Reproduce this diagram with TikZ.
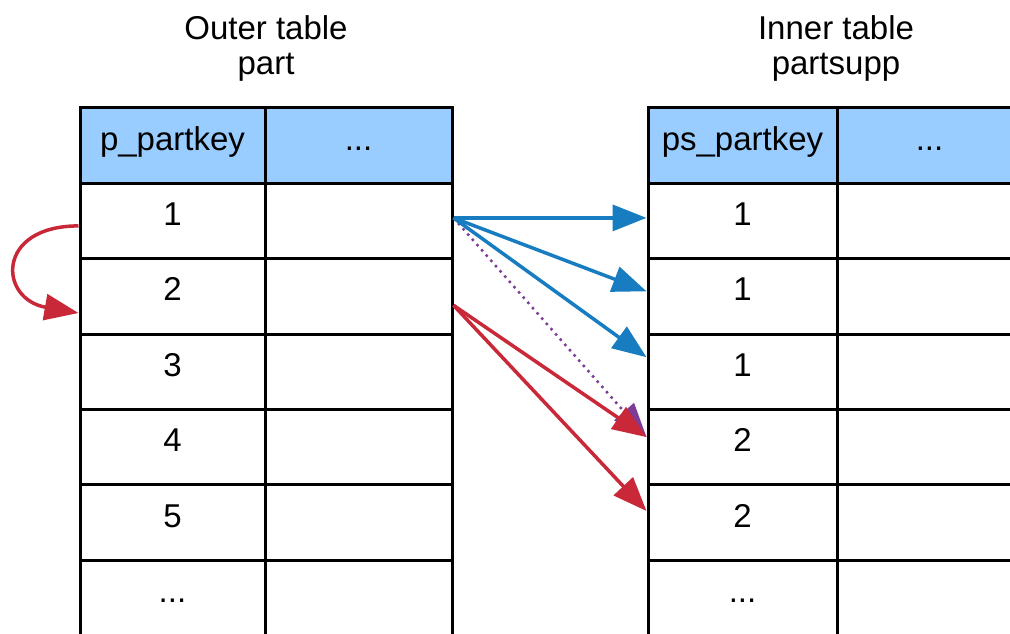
\documentclass[tikz,border=0pt]{standalone}
\usepackage{fontspec}
\setmainfont{Liberation Sans}
\usetikzlibrary{arrows.meta}
\definecolor{hdrfill}{RGB}{153,204,255}
\definecolor{bluearr}{RGB}{23,125,192}
\definecolor{redarr}{RGB}{200,40,56}
\definecolor{purparr}{RGB}{125,60,150}
\begin{document}
\begin{tikzpicture}[x=1pt,y=-1pt,
  cell/.style={draw=black,line width=3pt,minimum height=75.4pt,inner sep=0pt,
    text height=21pt,text depth=12pt,font=\fontsize{33}{38}\selectfont},
  hdrcell/.style={cell,fill=hdrfill},
  colA/.style={minimum width=185pt},
  colB/.style={minimum width=187pt},
  colC/.style={minimum width=189pt},
  colD/.style={minimum width=185pt},
  title/.style={anchor=north,align=center,inner sep=0pt,font=\fontsize{33}{35}\selectfont},
  tip/.style={-{Triangle[length=34pt,width=26pt]}},
  bluelink/.style={tip,draw=bluearr,line width=3.5pt},
  redlink/.style={tip,draw=redarr,line width=3.5pt},
  purplink/.style={tip,draw=purparr,line width=2.5pt,dash pattern=on 2.5pt off 4.5pt}]
\useasboundingbox (0,0) rectangle (1010,633);
\clip (0,0) rectangle (1010,633);

% titles
\node[title] (t1) at (266,15) {Outer table\\part};
\node[title] (t2) at (836,15) {Inner table\\partsupp};

% left table
\node[hdrcell,colA] (L0a) at (172.5,145.5) {p\_partkey};
\node[hdrcell,colB] (L0b) at (358.5,145.5) {...};
\node[cell,colA] (L1a) at (172.5,220.9) {1};
\node[cell,colB] (L1b) at (358.5,220.9) {};
\node[cell,colA] (L2a) at (172.5,296.3) {2};
\node[cell,colB] (L2b) at (358.5,296.3) {};
\node[cell,colA] (L3a) at (172.5,371.7) {3};
\node[cell,colB] (L3b) at (358.5,371.7) {};
\node[cell,colA] (L4a) at (172.5,447.1) {4};
\node[cell,colB] (L4b) at (358.5,447.1) {};
\node[cell,colA] (L5a) at (172.5,522.5) {5};
\node[cell,colB] (L5b) at (358.5,522.5) {};
\node[cell,colA] (L6a) at (172.5,597.9) {...};
\node[cell,colB] (L6b) at (358.5,597.9) {};

% right table
\node[hdrcell,colC] (R0a) at (742.5,145.5) {ps\_partkey};
\node[hdrcell,colD] (R0b) at (929.5,145.5) {...};
\node[cell,colC] (R1a) at (742.5,220.9) {1};
\node[cell,colD] (R1b) at (929.5,220.9) {};
\node[cell,colC] (R2a) at (742.5,296.3) {1};
\node[cell,colD] (R2b) at (929.5,296.3) {};
\node[cell,colC] (R3a) at (742.5,371.7) {1};
\node[cell,colD] (R3b) at (929.5,371.7) {};
\node[cell,colC] (R4a) at (742.5,447.1) {2};
\node[cell,colD] (R4b) at (929.5,447.1) {};
\node[cell,colC] (R5a) at (742.5,522.5) {2};
\node[cell,colD] (R5b) at (929.5,522.5) {};
\node[cell,colC] (R6a) at (742.5,597.9) {...};
\node[cell,colD] (R6b) at (929.5,597.9) {};

% connector end points
\coordinate (bs) at ([yshift=3pt]L1b.east);
\coordinate (rs) at ([yshift=-9pt]L2b.east);
\coordinate (e1) at ([yshift=3pt]R1a.west);
\coordinate (e2) at ([yshift=5pt]R2a.west);
\coordinate (e3) at ([yshift=14.5pt]R3a.west);
\coordinate (e4) at ([yshift=10pt]R4a.west);
\coordinate (e5) at ([yshift=11.5pt]R5a.west);
\coordinate (ls) at ([yshift=-5pt]L1a.west);
\coordinate (le) at ([yshift=-16.7pt]L2a.west);

% arrows
\draw[purplink] (bs) -- (e4);
\draw[bluelink] (bs) -- (e1);
\draw[bluelink] (bs) -- (e2);
\draw[bluelink] (bs) -- (e3);
\draw[redlink] (rs) -- (e4);
\draw[redlink] (rs) -- (e5);
\draw[redlink] (ls) .. controls +(-83,0) and +(-80,-14) .. (le);
\end{tikzpicture}
\end{document}
